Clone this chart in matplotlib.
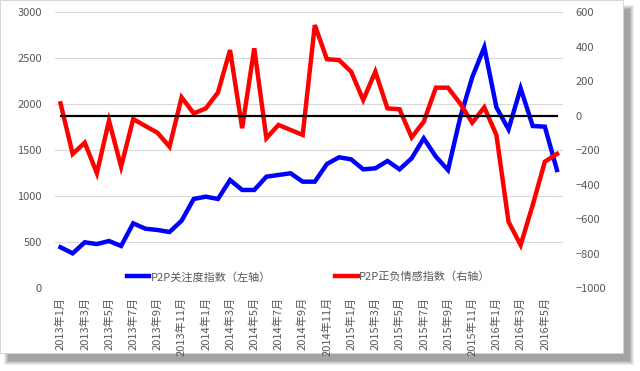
import matplotlib.pyplot as plt
from matplotlib.patches import Rectangle

plt.rcParams['font.family'] = ['Noto Sans CJK SC', 'DejaVu Sans']

# 2013年1月 ~ 2016年6月, monthly
tick_labels = ["2013年1月", "2013年3月", "2013年5月", "2013年7月", "2013年9月", "2013年11月",
               "2014年1月", "2014年3月", "2014年5月", "2014年7月", "2014年9月", "2014年11月",
               "2015年1月", "2015年3月", "2015年5月", "2015年7月", "2015年9月", "2015年11月",
               "2016年1月", "2016年3月", "2016年5月"]

attention = [446, 380, 500, 481, 514, 460, 706, 648, 634, 612, 735, 971, 996, 971,
             1177, 1069, 1069, 1213, 1232, 1250, 1159, 1159, 1351, 1424, 1402, 1293,
             1304, 1384, 1293, 1413, 1630, 1431, 1286, 1850, 2293, 2620, 1967, 1728,
             2174, 1764, 1757, 1286]

sentiment = [72, -221, -156, -333, -28, -295, -19, -59, -98, -179, 107, 14, 43, 135,
             381, -72, 391, -130, -53, -82, -111, 526, 328, 323, 256, 92, 256, 43,
             38, -125, -34, 163, 163, 72, -40, 49, -111, -614, -749, -517, -266, -221]

label_blue = "P2P关注度指数（左轴）"
label_red = "P2P正负情感指数（右轴）"

W, H = 640, 371
fig = plt.figure(figsize=(6.4, 3.71), dpi=100)
fig.patch.set_facecolor("white")

# drop shadow + white panel
for i, a in enumerate([0.10, 0.12, 0.15, 0.18, 0.22]):
    g = 4 - i
    fig.patches.append(Rectangle(((8 - g) / W, (H - 361 - g) / H), (622 + 2 * g) / W, (352 + 2 * g) / H,
                                 transform=fig.transFigure, facecolor="#606060", alpha=a,
                                 edgecolor="none", zorder=0))
fig.patches.append(Rectangle((0, (H - 352.7) / H), 623 / W, 352.7 / H, transform=fig.transFigure,
                             facecolor="white", edgecolor="#d0d0d0", linewidth=0.6, zorder=1))

ax = fig.add_axes([54.5 / W, (H - 288.3) / H, (563 - 54.5) / W, 276 / H])
ax.set_zorder(2)
ax.patch.set_visible(False)
ax2 = ax.twinx()

x = list(range(len(attention)))
l1, = ax.plot(x, attention, color="#0000ff", linewidth=3.2, solid_joinstyle="miter", zorder=3)
l2, = ax2.plot(x, sentiment, color="#ff0000", linewidth=3.2, solid_joinstyle="miter", zorder=3)
ax2.plot([x[0], x[-1]], [0, 0], color="black", linewidth=1.6, zorder=4)

ax.set_xlim(-0.5, len(x) - 0.5)
ax.set_ylim(0, 3000)
ax.set_yticks(range(0, 3001, 500))
ax2.set_ylim(-1000, 600)
ax2.set_yticks(range(-1000, 601, 200))
ax.grid(axis="y", color="#d9d9d9", linewidth=0.8)
ax.set_axisbelow(True)

ax.set_xticks(x[::2])
ax.set_xticklabels(tick_labels, rotation=90, fontsize=8, color="#595959")
for a in (ax, ax2):
    for s in a.spines.values():
        s.set_visible(False)
    a.tick_params(length=0, labelsize=8, colors="#595959")
ax.tick_params(axis="y", pad=9)
ax2.tick_params(axis="y", pad=9)
ax.tick_params(axis="x", pad=6)

ax.legend([l1, l2], [label_blue, label_red], loc="center", bbox_to_anchor=(0.5, 0.041),
          ncol=2, frameon=False, fontsize=8, handlelength=2.0, handletextpad=0.1,
          columnspacing=5.8, labelcolor="#595959")

fig.savefig("out.png", dpi=100, facecolor="white")
